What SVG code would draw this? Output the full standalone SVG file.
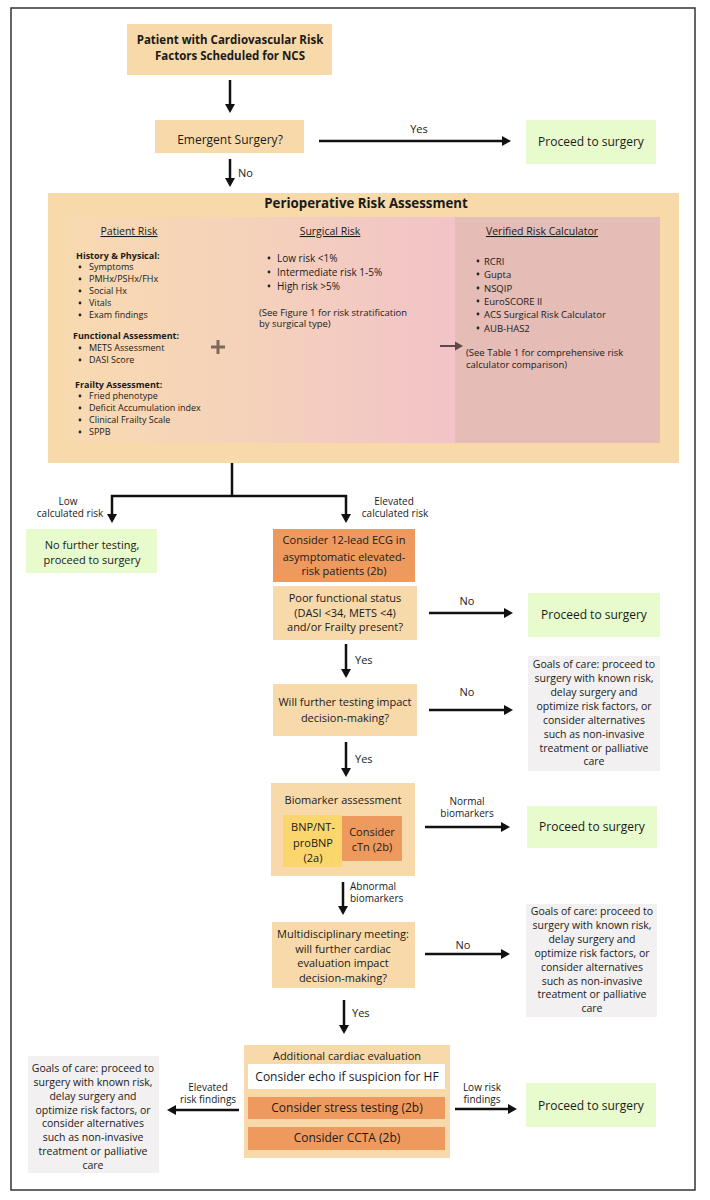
<svg xmlns="http://www.w3.org/2000/svg" width="710" height="1200" viewBox="0 0 710 1200">
<defs>
<linearGradient id="g1" x1="0" y1="0" x2="1" y2="0">
<stop offset="0" stop-color="#f8dab1"/>
<stop offset="0.45" stop-color="#f5d2ba"/>
<stop offset="1" stop-color="#f2c3c8"/>
</linearGradient>
<marker id="ah" markerUnits="userSpaceOnUse" markerWidth="9" markerHeight="10" refX="0" refY="5" orient="auto" overflow="visible">
<path d="M0,0 L9,5 L0,10 z" fill="#111"/>
</marker>
<marker id="ahg" markerUnits="userSpaceOnUse" markerWidth="8" markerHeight="9" refX="0" refY="4.5" orient="auto" overflow="visible">
<path d="M0,0 L8,4.5 L0,9 z" fill="#5b4a48"/>
</marker>
</defs>
<style>
text{font-family:"Open Sans","Noto Sans","DejaVu Sans",sans-serif;fill:#1a1a1a}
.c{text-anchor:middle}
.tan{fill:#f8d9a9}
.grn{fill:#e7fbcd}
.gry{fill:#f2f0f0}
.org{fill:#ee9a5e}
.yel{fill:#fbd66c}
.f11{font-size:11px}
.f12{font-size:12px}
.f10{font-size:10px}
.f105{font-size:10.5px}
.f9{font-size:9px}
.f95{font-size:9.5px}
.b{font-weight:bold}
.u{text-decoration:underline}
.ln{stroke:#111;stroke-width:2.5;fill:none}
</style>
<rect x="0" y="0" width="710" height="1200" fill="#fff"/>
<rect x="11" y="8" width="684" height="1182" fill="none" stroke="#333" stroke-width="1.5"/>

<g id="connectors">
<line class="ln" x1="230" y1="80" x2="230" y2="104" marker-end="url(#ah)"/>
<line class="ln" x1="319" y1="141" x2="502" y2="141" marker-end="url(#ah)"/>
<line class="ln" x1="230" y1="159" x2="230" y2="178" marker-end="url(#ah)"/>
<polyline class="ln" points="232,463 232,496"/>
<polyline class="ln" points="111,496 347,496"/>
<line class="ln" x1="112" y1="495" x2="112" y2="514" marker-end="url(#ah)"/>
<line class="ln" x1="346" y1="495" x2="346" y2="514" marker-end="url(#ah)"/>
<line class="ln" x1="429" y1="613" x2="504" y2="613" marker-end="url(#ah)"/>
<line class="ln" x1="346" y1="644" x2="346" y2="669" marker-end="url(#ah)"/>
<line class="ln" x1="429" y1="710" x2="504" y2="710" marker-end="url(#ah)"/>
<line class="ln" x1="346" y1="742" x2="346" y2="768" marker-end="url(#ah)"/>
<line class="ln" x1="425" y1="827" x2="501" y2="827" marker-end="url(#ah)"/>
<line class="ln" x1="343" y1="882" x2="343" y2="906" marker-end="url(#ah)"/>
<line class="ln" x1="425" y1="954" x2="501" y2="954" marker-end="url(#ah)"/>
<line class="ln" x1="344" y1="1000" x2="344" y2="1025" marker-end="url(#ah)"/>
<line class="ln" x1="239" y1="1110" x2="176" y2="1110" marker-end="url(#ah)"/>
<line class="ln" x1="455" y1="1109" x2="508" y2="1109" marker-end="url(#ah)"/>
<text class="f11" x="419" y="133" text-anchor="middle">Yes</text>
<text class="f11" x="238" y="177">No</text>
<text class="f10 c" x="68" y="505">Low</text>
<text class="f10 c" x="70" y="517">calculated risk</text>
<text class="f10 c" x="394" y="505">Elevated</text>
<text class="f10 c" x="395" y="517">calculated risk</text>
<text class="f11 c" x="467" y="605">No</text>
<text class="f11" x="355" y="664">Yes</text>
<text class="f11 c" x="467" y="696">No</text>
<text class="f11" x="355" y="763">Yes</text>
<text class="f10 c" x="467" y="805">Normal</text>
<text class="f10 c" x="467" y="817">biomarkers</text>
<text class="f10" x="350" y="890">Abnormal</text>
<text class="f10" x="350" y="902">biomarkers</text>
<text class="f11 c" x="463" y="949">No</text>
<text class="f11" x="352" y="1017">Yes</text>
<text class="f10 c" x="208" y="1091">Elevated</text>
<text class="f10 c" x="208" y="1103">risk findings</text>
<text class="f10 c" x="482" y="1091">Low risk</text>
<text class="f10 c" x="482" y="1103">findings</text>
</g>

<g id="start">
<rect class="tan" x="127" y="24" width="205" height="51"/>
<text class="b c" font-size="11.5" x="230" y="44">Patient with Cardiovascular Risk</text>
<text class="b c" font-size="11.5" x="230" y="60">Factors Scheduled for NCS</text>
</g>

<g id="emergent">
<rect class="tan" x="155" y="120" width="149" height="33"/>
<text class="f12 c" x="230" y="144">Emergent Surgery?</text>
</g>

<g id="proceed1">
<rect class="grn" x="526" y="120" width="130" height="44"/>
<text class="f12 c" x="591" y="146">Proceed to surgery</text>
</g>

<g id="risk-assessment">
<rect class="tan" x="48" y="193" width="631" height="270"/>
<rect x="66" y="217" width="389" height="226" fill="url(#g1)"/>
<rect x="455" y="217" width="205" height="226" fill="#e5bcb6"/>
<text class="b c" x="366" y="208" font-size="13.3">Perioperative Risk Assessment</text>

<text class="f105 c u" x="129" y="235">Patient Risk</text>
<text class="f9 b" x="76" y="259">History &amp; Physical:</text>
<g fill="#222">
<circle cx="80" cy="267" r="1.4"/><circle cx="80" cy="279" r="1.4"/><circle cx="80" cy="291" r="1.4"/><circle cx="80" cy="303" r="1.4"/><circle cx="80" cy="315" r="1.4"/>
<circle cx="80" cy="348" r="1.4"/><circle cx="80" cy="360" r="1.4"/>
<circle cx="80" cy="396" r="1.4"/><circle cx="80" cy="408" r="1.4"/><circle cx="80" cy="420" r="1.4"/><circle cx="80" cy="432" r="1.4"/>
</g>
<text class="f9" x="89" y="270">Symptoms</text>
<text class="f9" x="89" y="282">PMHx/PSHx/FHx</text>
<text class="f9" x="89" y="294">Social Hx</text>
<text class="f9" x="89" y="306">Vitals</text>
<text class="f9" x="89" y="318">Exam findings</text>
<text class="f9 b" x="73" y="339">Functional Assessment:</text>
<text class="f9" x="89" y="351">METS Assessment</text>
<text class="f9" x="89" y="363">DASI Score</text>
<text class="f9 b" x="75" y="388">Frailty Assessment:</text>
<text class="f9" x="89" y="399">Fried phenotype</text>
<text class="f9" x="89" y="411">Deficit Accumulation index</text>
<text class="f9" x="89" y="423">Clinical Frailty Scale</text>
<text class="f9" x="89" y="435">SPPB</text>
<path d="M211,345.5 h14 v3 h-14 z M216.5,340 h3 v14 h-3 z" fill="#7b6b5b"/>

<text class="f105 c u" x="330" y="235">Surgical Risk</text>
<g fill="#222">
<circle cx="269" cy="258" r="1.4"/><circle cx="269" cy="272" r="1.4"/><circle cx="269" cy="286" r="1.4"/>
</g>
<text class="f10" x="277" y="261.5">Low risk &lt;1%</text>
<text class="f10" x="277" y="275.5">Intermediate risk 1-5%</text>
<text class="f10" x="277" y="289.5">High risk &gt;5%</text>
<text class="f95" x="259" y="315.5">(See Figure 1 for risk stratification</text>
<text class="f95" x="259" y="326.5">by surgical type)</text>

<line x1="440" y1="346" x2="455" y2="346" stroke="#5b4a48" stroke-width="2" marker-end="url(#ahg)"/>

<text class="f105 c u" x="542" y="235">Verified Risk Calculator</text>
<g fill="#222">
<circle cx="478" cy="261" r="1.4"/><circle cx="478" cy="274" r="1.4"/><circle cx="478" cy="288" r="1.4"/><circle cx="478" cy="301" r="1.4"/><circle cx="478" cy="314" r="1.4"/><circle cx="478" cy="328" r="1.4"/>
</g>
<text class="f95" x="484" y="264.5">RCRI</text>
<text class="f95" x="484" y="277.5">Gupta</text>
<text class="f95" x="484" y="291.5">NSQIP</text>
<text class="f95" x="484" y="304.5">EuroSCORE II</text>
<text class="f95" x="484" y="317.5">ACS Surgical Risk Calculator</text>
<text class="f95" x="484" y="331.5">AUB-HAS2</text>
<text class="f95" x="466" y="355.5">(See Table 1 for comprehensive risk</text>
<text class="f95" x="466" y="367.5">calculator comparison)</text>
</g>

<g id="low-risk">
<rect class="grn" x="26" y="529" width="131" height="44"/>
<text class="f11 c" x="92" y="549">No further testing,</text>
<text class="f11 c" x="92" y="564">proceed to surgery</text>
</g>

<g id="ecg">
<rect class="org" x="273" y="529" width="142" height="53"/>
<text class="f11 c" x="344" y="544">Consider 12-lead ECG in</text>
<text class="f11 c" x="344" y="561">asymptomatic elevated-</text>
<text class="f11 c" x="344" y="575">risk patients (2b)</text>
</g>

<g id="functional">
<rect class="tan" x="273" y="586" width="144" height="54"/>
<text class="f11 c" x="345" y="602">Poor functional status</text>
<text class="f11 c" x="345" y="617">(DASI &lt;34, METS &lt;4)</text>
<text class="f11 c" x="345" y="631">and/or Frailty present?</text>
</g>

<g id="proceed2">
<rect class="grn" x="528" y="593" width="132" height="44"/>
<text class="f12 c" x="594" y="619">Proceed to surgery</text>
</g>

<g id="further-testing">
<rect class="tan" x="273" y="684" width="144" height="52"/>
<text class="f11 c" x="345" y="706">Will further testing impact</text>
<text class="f11 c" x="345" y="722">decision-making?</text>
</g>

<g id="goals1">
<rect class="gry" x="528" y="656" width="132" height="115"/>
<text class="f105 c" x="594" y="668">Goals of care: proceed to</text>
<text class="f105 c" x="594" y="682">surgery with known risk,</text>
<text class="f105 c" x="594" y="696">delay surgery and</text>
<text class="f105 c" x="594" y="710">optimize risk factors, or</text>
<text class="f105 c" x="594" y="724">consider alternatives</text>
<text class="f105 c" x="594" y="738">such as non-invasive</text>
<text class="f105 c" x="594" y="752">treatment or palliative</text>
<text class="f105 c" x="594" y="765">care</text>
</g>

<g id="biomarker">
<rect class="tan" x="271" y="783" width="144" height="93"/>
<text class="f11 c" x="343" y="804">Biomarker assessment</text>
<rect class="yel" x="283" y="815" width="59" height="52"/>
<rect class="org" x="342" y="816" width="60" height="45"/>
<text class="f11 c" x="313" y="831">BNP/NT-</text>
<text class="f11 c" x="313" y="847">proBNP</text>
<text class="f11 c" x="313" y="862">(2a)</text>
<text class="f11 c" x="372" y="836">Consider</text>
<text class="f11 c" x="372" y="851">cTn (2b)</text>
</g>

<g id="proceed3">
<rect class="grn" x="527" y="806" width="130" height="42"/>
<text class="f12 c" x="592" y="831">Proceed to surgery</text>
</g>

<g id="multidisciplinary">
<rect class="tan" x="272" y="922" width="143" height="66"/>
<text class="f11 c" x="343" y="938">Multidisciplinary meeting:</text>
<text class="f11 c" x="343" y="953">will further cardiac</text>
<text class="f11 c" x="343" y="967">evaluation impact</text>
<text class="f11 c" x="343" y="982">decision-making?</text>
</g>

<g id="goals2">
<rect class="gry" x="526" y="904" width="131" height="113"/>
<text class="f105 c" x="592" y="915">Goals of care: proceed to</text>
<text class="f105 c" x="592" y="929">surgery with known risk,</text>
<text class="f105 c" x="592" y="943">delay surgery and</text>
<text class="f105 c" x="592" y="957">optimize risk factors, or</text>
<text class="f105 c" x="592" y="971">consider alternatives</text>
<text class="f105 c" x="592" y="985">such as non-invasive</text>
<text class="f105 c" x="592" y="998">treatment or palliative</text>
<text class="f105 c" x="592" y="1012">care</text>
</g>

<g id="cardiac-eval">
<rect class="tan" x="244" y="1045" width="206" height="113"/>
<text class="f11 c" x="347" y="1060">Additional cardiac evaluation</text>
<rect x="248" y="1064" width="197" height="25" fill="#fff"/>
<text class="f12 c" x="347" y="1081">Consider echo if suspicion for HF</text>
<rect class="org" x="248" y="1097" width="197" height="22"/>
<text class="f12 c" x="347" y="1112">Consider stress testing (2b)</text>
<rect class="org" x="248" y="1127" width="197" height="23"/>
<text class="f12 c" x="347" y="1142">Consider CCTA (2b)</text>
</g>

<g id="goals3">
<rect class="gry" x="28" y="1056" width="131" height="117"/>
<text class="f105 c" x="93" y="1072">Goals of care: proceed to</text>
<text class="f105 c" x="93" y="1086">surgery with known risk,</text>
<text class="f105 c" x="93" y="1100">delay surgery and</text>
<text class="f105 c" x="93" y="1114">optimize risk factors, or</text>
<text class="f105 c" x="93" y="1127">consider alternatives</text>
<text class="f105 c" x="93" y="1141">such as non-invasive</text>
<text class="f105 c" x="93" y="1155">treatment or palliative</text>
<text class="f105 c" x="93" y="1169">care</text>
</g>

<g id="proceed4">
<rect class="grn" x="526" y="1083" width="130" height="44"/>
<text class="f12 c" x="591" y="1110">Proceed to surgery</text>
</g>
</svg>
